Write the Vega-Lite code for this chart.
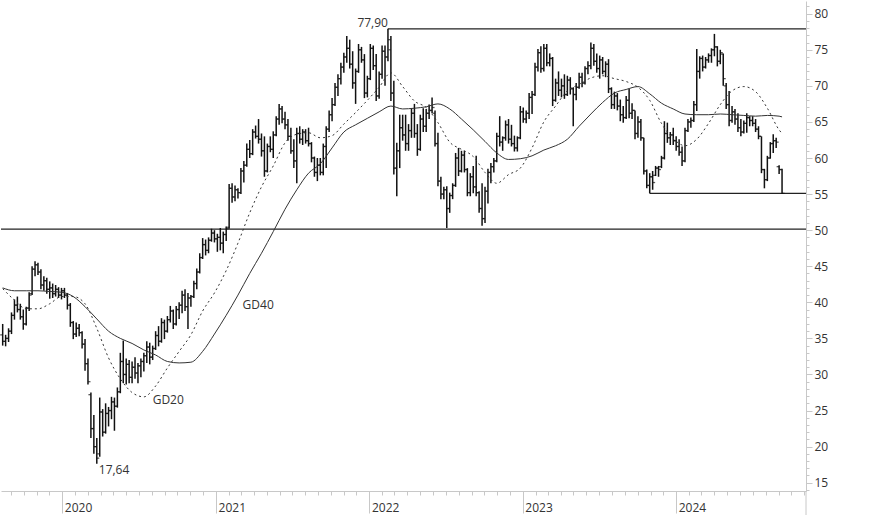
{
"$schema": "https://vega.github.io/schema/vega-lite/v6.json",
"width": 805, "height": 490, "padding": 0,
"autosize": {"type": "pad"},
"background": "white",
"config": {"view": {"stroke": null}, "font": "Open Sans", "text": {"font": "Open Sans"},
 "axis": {"labelOverlap": false, "labelFlush": false, "grid": false, "title": null, "domainColor": "#c8c8c8", "tickColor": "#c8c8c8", "labelColor": "#333333", "labelFontSize": 12, "labelFont": "Open Sans"}},
"resolve": {"axis": {"x": "independent", "y": "independent"}},
"datasets": {
"bars": [
{"d":"2019-08-12","o":35.5,"h":37.0,"l":34.0,"c":34.6},
{"d":"2019-08-19","o":34.6,"h":35.5,"l":33.9,"c":35.0},
{"d":"2019-08-26","o":35.0,"h":36.4,"l":34.5,"c":36.0},
{"d":"2019-09-02","o":36.0,"h":38.6,"l":35.6,"c":38.2},
{"d":"2019-09-09","o":38.2,"h":40.4,"l":37.6,"c":39.6},
{"d":"2019-09-16","o":39.6,"h":40.8,"l":38.6,"c":39.0},
{"d":"2019-09-23","o":39.0,"h":39.8,"l":37.6,"c":38.0},
{"d":"2019-09-30","o":38.0,"h":39.0,"l":36.2,"c":37.0},
{"d":"2019-10-07","o":37.0,"h":39.4,"l":36.8,"c":39.2},
{"d":"2019-10-14","o":39.2,"h":41.4,"l":38.8,"c":41.0},
{"d":"2019-10-21","o":41.2,"h":45.0,"l":41.0,"c":44.6},
{"d":"2019-10-28","o":44.6,"h":45.7,"l":43.6,"c":45.2},
{"d":"2019-11-04","o":45.2,"h":45.5,"l":43.8,"c":44.2},
{"d":"2019-11-11","o":44.2,"h":44.6,"l":41.8,"c":42.4},
{"d":"2019-11-18","o":42.4,"h":43.6,"l":41.6,"c":43.0},
{"d":"2019-11-25","o":43.0,"h":43.4,"l":41.2,"c":41.8},
{"d":"2019-12-02","o":41.8,"h":42.9,"l":40.5,"c":42.0},
{"d":"2019-12-09","o":42.0,"h":42.6,"l":40.6,"c":41.2},
{"d":"2019-12-16","o":41.2,"h":42.4,"l":40.8,"c":41.8},
{"d":"2019-12-23","o":41.8,"h":42.1,"l":40.6,"c":41.0},
{"d":"2019-12-30","o":41.0,"h":42.0,"l":40.4,"c":41.6},
{"d":"2020-01-06","o":41.6,"h":42.0,"l":40.6,"c":41.0},
{"d":"2020-01-13","o":41.0,"h":41.3,"l":39.0,"c":39.6},
{"d":"2020-01-20","o":39.6,"h":39.9,"l":36.6,"c":37.2},
{"d":"2020-01-27","o":37.2,"h":37.4,"l":34.9,"c":35.6},
{"d":"2020-02-03","o":35.6,"h":37.2,"l":35.2,"c":36.4},
{"d":"2020-02-10","o":36.4,"h":37.0,"l":35.3,"c":35.8},
{"d":"2020-02-17","o":35.8,"h":36.0,"l":33.6,"c":34.2},
{"d":"2020-02-24","o":34.2,"h":34.9,"l":30.5,"c":31.5},
{"d":"2020-03-02","o":31.5,"h":32.2,"l":28.6,"c":29.0},
{"d":"2020-03-09","o":27.2,"h":27.5,"l":21.2,"c":22.5},
{"d":"2020-03-16","o":22.5,"h":24.4,"l":19.0,"c":20.0},
{"d":"2020-03-23","o":20.0,"h":21.2,"l":17.64,"c":18.4},
{"d":"2020-03-30","o":19.0,"h":26.8,"l":18.6,"c":24.8},
{"d":"2020-04-06","o":24.8,"h":25.2,"l":21.4,"c":22.0},
{"d":"2020-04-13","o":22.0,"h":26.0,"l":21.8,"c":24.6},
{"d":"2020-04-20","o":24.6,"h":25.5,"l":22.8,"c":25.0},
{"d":"2020-04-27","o":25.0,"h":26.9,"l":23.8,"c":26.2},
{"d":"2020-05-04","o":26.2,"h":26.8,"l":22.2,"c":25.6},
{"d":"2020-05-11","o":25.6,"h":28.2,"l":25.4,"c":27.6},
{"d":"2020-05-18","o":27.6,"h":33.0,"l":27.4,"c":31.8},
{"d":"2020-05-25","o":31.8,"h":34.7,"l":28.8,"c":30.0},
{"d":"2020-06-01","o":30.0,"h":32.2,"l":28.6,"c":31.4},
{"d":"2020-06-08","o":31.4,"h":32.0,"l":28.8,"c":29.6},
{"d":"2020-06-15","o":29.6,"h":31.8,"l":28.8,"c":31.0},
{"d":"2020-06-22","o":31.0,"h":32.4,"l":29.4,"c":30.2},
{"d":"2020-06-29","o":30.2,"h":31.6,"l":28.8,"c":31.2},
{"d":"2020-07-06","o":31.2,"h":32.2,"l":29.6,"c":31.8},
{"d":"2020-07-13","o":31.8,"h":33.0,"l":30.4,"c":32.6},
{"d":"2020-07-20","o":32.6,"h":34.6,"l":31.6,"c":33.8},
{"d":"2020-07-27","o":33.8,"h":34.4,"l":31.4,"c":32.4},
{"d":"2020-08-03","o":32.4,"h":34.0,"l":32.0,"c":33.6},
{"d":"2020-08-10","o":33.6,"h":36.0,"l":33.4,"c":35.4},
{"d":"2020-08-17","o":35.4,"h":36.7,"l":33.9,"c":34.6},
{"d":"2020-08-24","o":34.6,"h":37.8,"l":34.4,"c":37.2},
{"d":"2020-08-31","o":37.2,"h":37.6,"l":34.9,"c":36.0},
{"d":"2020-09-07","o":36.0,"h":38.1,"l":35.8,"c":37.6},
{"d":"2020-09-14","o":37.6,"h":39.5,"l":37.2,"c":38.8},
{"d":"2020-09-21","o":38.8,"h":39.0,"l":36.3,"c":37.0},
{"d":"2020-09-28","o":37.0,"h":39.5,"l":36.8,"c":39.0},
{"d":"2020-10-05","o":39.0,"h":40.0,"l":37.7,"c":39.6},
{"d":"2020-10-12","o":39.6,"h":41.6,"l":38.5,"c":41.0},
{"d":"2020-10-19","o":41.0,"h":41.8,"l":38.8,"c":39.4},
{"d":"2020-10-26","o":39.4,"h":41.3,"l":36.3,"c":40.6},
{"d":"2020-11-02","o":40.6,"h":41.0,"l":39.4,"c":40.8},
{"d":"2020-11-09","o":40.8,"h":43.0,"l":40.6,"c":42.6},
{"d":"2020-11-16","o":42.6,"h":44.7,"l":41.8,"c":44.2},
{"d":"2020-11-23","o":44.2,"h":46.8,"l":44.0,"c":46.2},
{"d":"2020-11-30","o":46.2,"h":48.9,"l":46.0,"c":48.0},
{"d":"2020-12-07","o":48.0,"h":48.7,"l":46.5,"c":47.2},
{"d":"2020-12-14","o":47.2,"h":49.0,"l":46.8,"c":48.6},
{"d":"2020-12-21","o":48.6,"h":50.2,"l":48.4,"c":49.6},
{"d":"2020-12-28","o":49.6,"h":50.0,"l":48.3,"c":48.8},
{"d":"2021-01-04","o":48.8,"h":49.5,"l":47.0,"c":49.0},
{"d":"2021-01-11","o":49.0,"h":50.3,"l":47.2,"c":48.2},
{"d":"2021-01-18","o":48.2,"h":49.8,"l":46.8,"c":49.4},
{"d":"2021-01-25","o":49.4,"h":50.5,"l":48.5,"c":50.2},
{"d":"2021-02-01","o":50.4,"h":56.4,"l":50.2,"c":55.8},
{"d":"2021-02-08","o":55.8,"h":56.5,"l":53.8,"c":54.6},
{"d":"2021-02-15","o":54.6,"h":56.2,"l":54.0,"c":55.6},
{"d":"2021-02-22","o":55.6,"h":55.8,"l":54.4,"c":55.2},
{"d":"2021-03-01","o":55.2,"h":58.6,"l":55.0,"c":58.2},
{"d":"2021-03-08","o":58.2,"h":59.6,"l":56.6,"c":59.0},
{"d":"2021-03-15","o":59.0,"h":62.0,"l":58.8,"c":61.2},
{"d":"2021-03-22","o":61.2,"h":62.5,"l":60.0,"c":60.6},
{"d":"2021-03-29","o":60.6,"h":64.0,"l":60.4,"c":63.6},
{"d":"2021-04-05","o":63.6,"h":64.5,"l":62.7,"c":63.0},
{"d":"2021-04-12","o":63.0,"h":65.4,"l":62.0,"c":62.6},
{"d":"2021-04-19","o":62.6,"h":63.4,"l":60.2,"c":61.0},
{"d":"2021-04-26","o":61.0,"h":63.0,"l":57.4,"c":58.2},
{"d":"2021-05-03","o":58.2,"h":62.0,"l":58.0,"c":61.6},
{"d":"2021-05-10","o":61.6,"h":63.0,"l":60.8,"c":61.2},
{"d":"2021-05-17","o":61.2,"h":63.7,"l":60.0,"c":63.2},
{"d":"2021-05-24","o":63.2,"h":65.8,"l":63.0,"c":65.4},
{"d":"2021-05-31","o":65.4,"h":67.5,"l":64.6,"c":66.8},
{"d":"2021-06-07","o":66.8,"h":67.2,"l":64.8,"c":65.4},
{"d":"2021-06-14","o":65.4,"h":66.4,"l":64.0,"c":64.6},
{"d":"2021-06-21","o":64.6,"h":65.4,"l":62.4,"c":63.0},
{"d":"2021-06-28","o":63.0,"h":64.2,"l":60.6,"c":61.0},
{"d":"2021-07-05","o":61.0,"h":62.6,"l":58.6,"c":59.6},
{"d":"2021-07-12","o":59.6,"h":64.2,"l":56.5,"c":63.4},
{"d":"2021-07-19","o":63.4,"h":64.4,"l":62.0,"c":62.6},
{"d":"2021-07-26","o":62.6,"h":64.0,"l":61.8,"c":63.6},
{"d":"2021-08-02","o":63.6,"h":64.0,"l":62.0,"c":62.4},
{"d":"2021-08-09","o":62.4,"h":64.2,"l":61.6,"c":62.0},
{"d":"2021-08-16","o":62.0,"h":62.2,"l":59.4,"c":60.0},
{"d":"2021-08-23","o":60.0,"h":60.2,"l":57.4,"c":58.0},
{"d":"2021-08-30","o":58.0,"h":60.0,"l":56.8,"c":59.0},
{"d":"2021-09-06","o":59.0,"h":60.0,"l":57.6,"c":58.0},
{"d":"2021-09-13","o":58.0,"h":62.0,"l":57.6,"c":61.6},
{"d":"2021-09-20","o":61.6,"h":64.4,"l":58.6,"c":64.0},
{"d":"2021-09-27","o":64.0,"h":66.6,"l":63.6,"c":66.0},
{"d":"2021-10-04","o":66.0,"h":68.3,"l":65.1,"c":67.4},
{"d":"2021-10-11","o":67.4,"h":70.4,"l":67.2,"c":69.8},
{"d":"2021-10-18","o":69.8,"h":71.6,"l":68.6,"c":71.0},
{"d":"2021-10-25","o":71.0,"h":73.2,"l":70.2,"c":72.6},
{"d":"2021-11-01","o":72.6,"h":74.6,"l":71.8,"c":74.0},
{"d":"2021-11-08","o":74.0,"h":76.9,"l":73.2,"c":75.2},
{"d":"2021-11-15","o":75.2,"h":76.4,"l":72.4,"c":73.0},
{"d":"2021-11-22","o":73.0,"h":74.8,"l":69.6,"c":70.4},
{"d":"2021-11-29","o":70.4,"h":72.4,"l":67.5,"c":72.0},
{"d":"2021-12-06","o":72.0,"h":75.8,"l":71.8,"c":75.0},
{"d":"2021-12-13","o":75.0,"h":75.4,"l":73.2,"c":73.6},
{"d":"2021-12-20","o":73.6,"h":74.4,"l":68.3,"c":69.0},
{"d":"2021-12-27","o":69.0,"h":71.4,"l":68.4,"c":71.0},
{"d":"2022-01-03","o":71.0,"h":75.8,"l":70.8,"c":75.2},
{"d":"2022-01-10","o":75.2,"h":75.6,"l":72.2,"c":72.8},
{"d":"2022-01-17","o":72.8,"h":74.4,"l":67.9,"c":68.6},
{"d":"2022-01-24","o":68.6,"h":72.0,"l":68.2,"c":71.6},
{"d":"2022-01-31","o":71.6,"h":75.6,"l":71.0,"c":74.8},
{"d":"2022-02-07","o":74.8,"h":75.6,"l":70.0,"c":74.0},
{"d":"2022-02-14","o":74.0,"h":77.9,"l":73.4,"c":76.4},
{"d":"2022-02-21","o":75.0,"h":76.9,"l":67.9,"c":69.0},
{"d":"2022-02-28","o":69.0,"h":70.7,"l":57.7,"c":58.6},
{"d":"2022-03-07","o":58.6,"h":62.1,"l":54.7,"c":61.0},
{"d":"2022-03-14","o":61.0,"h":66.0,"l":58.6,"c":64.2},
{"d":"2022-03-21","o":64.2,"h":66.0,"l":62.4,"c":63.2},
{"d":"2022-03-28","o":63.2,"h":66.0,"l":61.0,"c":62.0},
{"d":"2022-04-04","o":62.0,"h":64.7,"l":61.0,"c":63.8},
{"d":"2022-04-11","o":63.8,"h":66.9,"l":62.8,"c":66.2},
{"d":"2022-04-18","o":66.2,"h":67.5,"l":62.8,"c":63.4},
{"d":"2022-04-25","o":63.4,"h":64.7,"l":60.3,"c":61.2},
{"d":"2022-05-02","o":61.2,"h":66.0,"l":61.0,"c":65.4},
{"d":"2022-05-09","o":65.4,"h":66.9,"l":63.6,"c":64.4},
{"d":"2022-05-16","o":64.4,"h":66.8,"l":63.6,"c":66.2},
{"d":"2022-05-23","o":66.2,"h":67.4,"l":65.4,"c":66.6},
{"d":"2022-05-30","o":66.6,"h":68.4,"l":66.2,"c":67.0},
{"d":"2022-06-06","o":66.2,"h":66.6,"l":61.6,"c":62.0},
{"d":"2022-06-13","o":62.0,"h":63.5,"l":56.1,"c":56.8},
{"d":"2022-06-20","o":56.8,"h":57.4,"l":54.3,"c":55.0},
{"d":"2022-06-27","o":55.0,"h":56.0,"l":54.3,"c":55.6},
{"d":"2022-07-04","o":55.6,"h":56.1,"l":50.3,"c":53.0},
{"d":"2022-07-11","o":53.0,"h":55.2,"l":52.4,"c":54.8},
{"d":"2022-07-18","o":54.8,"h":56.5,"l":54.3,"c":56.2},
{"d":"2022-07-25","o":56.2,"h":60.7,"l":56.0,"c":60.0},
{"d":"2022-08-01","o":60.0,"h":61.4,"l":57.5,"c":58.2},
{"d":"2022-08-08","o":58.2,"h":61.0,"l":58.0,"c":60.4},
{"d":"2022-08-15","o":60.4,"h":61.0,"l":58.0,"c":58.4},
{"d":"2022-08-22","o":58.4,"h":58.6,"l":54.7,"c":55.2},
{"d":"2022-08-29","o":55.2,"h":57.9,"l":54.7,"c":57.4},
{"d":"2022-09-05","o":57.4,"h":58.9,"l":55.1,"c":56.0},
{"d":"2022-09-12","o":56.0,"h":60.3,"l":54.7,"c":55.2},
{"d":"2022-09-19","o":55.2,"h":55.4,"l":52.4,"c":53.0},
{"d":"2022-09-26","o":53.0,"h":56.5,"l":50.6,"c":51.6},
{"d":"2022-10-03","o":51.6,"h":56.0,"l":51.0,"c":55.4},
{"d":"2022-10-10","o":55.4,"h":58.5,"l":53.7,"c":58.0},
{"d":"2022-10-17","o":58.0,"h":59.3,"l":56.5,"c":58.8},
{"d":"2022-10-24","o":58.8,"h":60.0,"l":58.0,"c":59.6},
{"d":"2022-10-31","o":59.6,"h":63.5,"l":59.4,"c":63.0},
{"d":"2022-11-07","o":63.0,"h":65.8,"l":61.6,"c":62.2},
{"d":"2022-11-14","o":62.2,"h":63.0,"l":61.0,"c":62.8},
{"d":"2022-11-21","o":62.8,"h":65.2,"l":62.4,"c":64.6},
{"d":"2022-11-28","o":64.6,"h":65.4,"l":62.0,"c":62.6},
{"d":"2022-12-05","o":62.6,"h":64.6,"l":61.6,"c":62.0},
{"d":"2022-12-12","o":62.0,"h":63.1,"l":60.9,"c":61.4},
{"d":"2022-12-19","o":61.4,"h":63.0,"l":60.9,"c":62.8},
{"d":"2022-12-26","o":62.8,"h":67.2,"l":62.6,"c":66.4},
{"d":"2023-01-02","o":66.4,"h":67.0,"l":64.9,"c":65.4},
{"d":"2023-01-09","o":65.4,"h":66.6,"l":64.8,"c":66.2},
{"d":"2023-01-16","o":66.2,"h":69.0,"l":65.4,"c":68.4},
{"d":"2023-01-23","o":68.4,"h":69.3,"l":66.1,"c":68.8},
{"d":"2023-01-30","o":68.8,"h":73.2,"l":68.6,"c":72.6},
{"d":"2023-02-06","o":72.6,"h":75.1,"l":72.0,"c":74.6},
{"d":"2023-02-13","o":74.6,"h":75.5,"l":71.8,"c":72.4},
{"d":"2023-02-20","o":72.4,"h":75.8,"l":72.0,"c":75.2},
{"d":"2023-02-27","o":75.2,"h":75.8,"l":72.7,"c":73.2},
{"d":"2023-03-06","o":73.2,"h":74.5,"l":72.7,"c":73.8},
{"d":"2023-03-13","o":73.8,"h":74.0,"l":67.2,"c":68.0},
{"d":"2023-03-20","o":68.0,"h":71.0,"l":67.8,"c":70.4},
{"d":"2023-03-27","o":70.4,"h":72.0,"l":68.6,"c":69.4},
{"d":"2023-04-03","o":69.4,"h":71.0,"l":68.4,"c":70.0},
{"d":"2023-04-10","o":70.0,"h":71.6,"l":68.2,"c":68.8},
{"d":"2023-04-17","o":68.8,"h":71.4,"l":68.6,"c":70.8},
{"d":"2023-04-24","o":70.8,"h":71.2,"l":68.8,"c":69.6},
{"d":"2023-05-01","o":69.6,"h":69.8,"l":64.4,"c":68.8},
{"d":"2023-05-08","o":68.8,"h":70.4,"l":68.0,"c":69.8},
{"d":"2023-05-15","o":69.8,"h":71.8,"l":69.6,"c":71.2},
{"d":"2023-05-22","o":71.2,"h":71.8,"l":69.8,"c":70.4},
{"d":"2023-05-29","o":70.4,"h":72.7,"l":70.2,"c":72.4},
{"d":"2023-06-05","o":72.4,"h":73.4,"l":71.6,"c":72.8},
{"d":"2023-06-12","o":72.8,"h":76.0,"l":72.3,"c":75.2},
{"d":"2023-06-19","o":75.2,"h":75.8,"l":72.8,"c":73.4},
{"d":"2023-06-26","o":73.4,"h":74.5,"l":71.8,"c":72.4},
{"d":"2023-07-03","o":72.4,"h":74.2,"l":71.0,"c":73.6},
{"d":"2023-07-10","o":73.6,"h":74.0,"l":71.6,"c":72.0},
{"d":"2023-07-17","o":72.0,"h":73.4,"l":71.2,"c":73.0},
{"d":"2023-07-24","o":73.0,"h":73.7,"l":69.0,"c":69.6},
{"d":"2023-07-31","o":69.6,"h":69.8,"l":66.8,"c":67.4},
{"d":"2023-08-07","o":67.4,"h":69.2,"l":66.8,"c":68.6},
{"d":"2023-08-14","o":68.6,"h":69.0,"l":66.6,"c":67.2},
{"d":"2023-08-21","o":67.2,"h":68.1,"l":65.1,"c":66.0},
{"d":"2023-08-28","o":66.0,"h":67.2,"l":64.9,"c":65.6},
{"d":"2023-09-04","o":65.6,"h":68.6,"l":65.4,"c":68.0},
{"d":"2023-09-11","o":68.0,"h":69.6,"l":65.5,"c":66.2},
{"d":"2023-09-18","o":66.2,"h":67.6,"l":65.4,"c":66.6},
{"d":"2023-09-25","o":66.6,"h":66.6,"l":62.6,"c":63.4},
{"d":"2023-10-02","o":63.4,"h":65.8,"l":62.8,"c":65.0},
{"d":"2023-10-09","o":65.0,"h":65.4,"l":62.4,"c":62.8},
{"d":"2023-10-16","o":62.8,"h":62.8,"l":57.7,"c":58.2},
{"d":"2023-10-23","o":58.2,"h":58.4,"l":55.8,"c":56.2},
{"d":"2023-10-30","o":56.2,"h":57.9,"l":55.1,"c":57.4},
{"d":"2023-11-06","o":57.4,"h":58.2,"l":55.6,"c":56.6},
{"d":"2023-11-13","o":57.6,"h":58.9,"l":57.5,"c":58.6},
{"d":"2023-11-20","o":58.6,"h":58.9,"l":57.4,"c":58.4},
{"d":"2023-11-27","o":58.8,"h":60.3,"l":58.6,"c":60.0},
{"d":"2023-12-04","o":60.0,"h":65.1,"l":59.8,"c":63.4},
{"d":"2023-12-11","o":63.4,"h":64.9,"l":62.1,"c":62.8},
{"d":"2023-12-18","o":62.8,"h":63.6,"l":61.8,"c":63.2},
{"d":"2023-12-25","o":63.2,"h":64.2,"l":61.8,"c":62.4},
{"d":"2024-01-01","o":62.4,"h":63.0,"l":61.0,"c":61.6},
{"d":"2024-01-08","o":61.6,"h":62.6,"l":60.3,"c":60.8},
{"d":"2024-01-15","o":60.8,"h":61.6,"l":58.9,"c":59.6},
{"d":"2024-01-22","o":59.6,"h":64.2,"l":59.4,"c":63.8},
{"d":"2024-01-29","o":63.8,"h":65.4,"l":63.6,"c":65.0},
{"d":"2024-02-05","o":65.0,"h":65.6,"l":64.2,"c":65.2},
{"d":"2024-02-12","o":65.2,"h":67.9,"l":65.0,"c":67.4},
{"d":"2024-02-19","o":67.4,"h":75.1,"l":66.5,"c":72.0},
{"d":"2024-02-26","o":72.0,"h":74.1,"l":71.0,"c":73.8},
{"d":"2024-03-04","o":73.8,"h":74.2,"l":72.0,"c":72.6},
{"d":"2024-03-11","o":72.6,"h":74.0,"l":72.4,"c":73.6},
{"d":"2024-03-18","o":73.6,"h":74.5,"l":73.2,"c":74.2},
{"d":"2024-03-25","o":74.2,"h":75.2,"l":73.2,"c":75.0},
{"d":"2024-04-01","o":75.0,"h":77.2,"l":74.1,"c":75.4},
{"d":"2024-04-08","o":75.4,"h":75.5,"l":72.7,"c":73.4},
{"d":"2024-04-15","o":73.4,"h":75.0,"l":73.0,"c":74.6},
{"d":"2024-04-22","o":74.4,"h":74.5,"l":70.0,"c":71.0},
{"d":"2024-04-29","o":70.0,"h":70.4,"l":66.8,"c":67.4},
{"d":"2024-05-06","o":67.4,"h":69.3,"l":64.4,"c":65.2},
{"d":"2024-05-13","o":65.2,"h":67.2,"l":64.9,"c":66.4},
{"d":"2024-05-20","o":66.4,"h":66.8,"l":64.6,"c":65.4},
{"d":"2024-05-27","o":65.4,"h":66.2,"l":63.6,"c":64.2},
{"d":"2024-06-03","o":64.2,"h":65.4,"l":63.0,"c":63.6},
{"d":"2024-06-10","o":63.6,"h":65.2,"l":63.4,"c":64.8},
{"d":"2024-06-17","o":64.8,"h":66.2,"l":63.5,"c":65.6},
{"d":"2024-06-24","o":65.6,"h":65.8,"l":64.4,"c":65.2},
{"d":"2024-07-01","o":65.2,"h":65.8,"l":64.4,"c":64.8},
{"d":"2024-07-08","o":64.8,"h":65.4,"l":63.6,"c":64.0},
{"d":"2024-07-15","o":64.0,"h":64.4,"l":62.6,"c":63.0},
{"d":"2024-07-22","o":63.0,"h":63.0,"l":57.9,"c":58.4},
{"d":"2024-07-29","o":58.4,"h":58.5,"l":55.8,"c":57.0},
{"d":"2024-08-05","o":57.0,"h":60.3,"l":56.8,"c":60.0},
{"d":"2024-08-12","o":60.0,"h":62.2,"l":59.9,"c":62.0},
{"d":"2024-08-19","o":62.0,"h":63.3,"l":60.7,"c":62.4},
{"d":"2024-08-26","o":62.4,"h":62.8,"l":61.4,"c":62.2},
{"d":"2024-09-02","o":58.8,"h":59.0,"l":57.8,"c":58.4},
{"d":"2024-09-09","o":58.4,"h":58.5,"l":55.0,"c":55.1}
],
"ma": [
{"d":"2019-08-12","g20":41.9,"g40":42.0},
{"d":"2019-09-09","g20":40.3,"g40":41.6},
{"d":"2019-10-07","g20":39.1,"g40":41.6},
{"d":"2019-11-04","g20":39.1,"g40":41.6},
{"d":"2019-12-02","g20":39.8,"g40":41.5},
{"d":"2019-12-30","g20":40.8,"g40":41.4},
{"d":"2020-01-27","g20":40.8,"g40":40.8},
{"d":"2020-02-24","g20":39.8,"g40":39.4},
{"d":"2020-03-23","g20":36.4,"g40":37.7},
{"d":"2020-04-20","g20":32.3,"g40":36.0},
{"d":"2020-05-18","g20":29.4,"g40":35.0},
{"d":"2020-06-15","g20":27.5,"g40":34.3},
{"d":"2020-07-13","g20":26.9,"g40":33.4},
{"d":"2020-08-10","g20":28.4,"g40":32.7},
{"d":"2020-09-07","g20":30.9,"g40":31.8},
{"d":"2020-10-05","g20":33.2,"g40":31.6},
{"d":"2020-11-02","g20":35.5,"g40":31.7},
{"d":"2020-11-30","g20":38.8,"g40":33.2},
{"d":"2020-12-28","g20":41.3,"g40":35.6},
{"d":"2021-01-25","g20":44.4,"g40":38.2},
{"d":"2021-02-22","g20":48.2,"g40":41.0},
{"d":"2021-03-22","g20":52.4,"g40":44.0},
{"d":"2021-04-19","g20":56.0,"g40":46.8},
{"d":"2021-05-17","g20":58.9,"g40":49.8},
{"d":"2021-06-14","g20":62.1,"g40":52.9},
{"d":"2021-07-12","g20":63.3,"g40":55.6},
{"d":"2021-08-09","g20":63.5,"g40":57.9},
{"d":"2021-09-06","g20":62.8,"g40":59.2},
{"d":"2021-10-04","g20":63.1,"g40":61.4},
{"d":"2021-11-01","g20":64.7,"g40":63.6},
{"d":"2021-11-29","g20":66.3,"g40":64.6},
{"d":"2021-12-27","g20":68.0,"g40":65.5},
{"d":"2022-01-24","g20":69.8,"g40":66.4},
{"d":"2022-02-21","g20":71.8,"g40":67.2},
{"d":"2022-03-21","g20":69.9,"g40":66.8},
{"d":"2022-04-18","g20":67.9,"g40":66.9},
{"d":"2022-05-16","g20":67.0,"g40":67.1},
{"d":"2022-06-13","g20":64.9,"g40":67.5},
{"d":"2022-07-11","g20":62.2,"g40":66.8},
{"d":"2022-08-08","g20":61.2,"g40":65.4},
{"d":"2022-09-05","g20":60.2,"g40":63.9},
{"d":"2022-10-03","g20":58.0,"g40":62.3},
{"d":"2022-10-31","g20":56.5,"g40":60.7},
{"d":"2022-11-28","g20":57.7,"g40":59.8},
{"d":"2022-12-26","g20":58.6,"g40":59.9},
{"d":"2023-01-23","g20":61.4,"g40":60.3},
{"d":"2023-02-20","g20":65.0,"g40":61.1},
{"d":"2023-03-20","g20":67.2,"g40":61.7},
{"d":"2023-04-17","g20":69.3,"g40":62.6},
{"d":"2023-05-15","g20":70.2,"g40":64.4},
{"d":"2023-06-12","g20":71.1,"g40":66.1},
{"d":"2023-07-10","g20":71.4,"g40":67.7},
{"d":"2023-08-07","g20":71.0,"g40":69.0},
{"d":"2023-09-04","g20":70.6,"g40":69.5},
{"d":"2023-10-02","g20":69.8,"g40":69.9},
{"d":"2023-10-30","g20":68.0,"g40":68.9},
{"d":"2023-11-27","g20":64.8,"g40":67.6},
{"d":"2023-12-25","g20":62.7,"g40":66.8},
{"d":"2024-01-22","g20":61.7,"g40":66.1},
{"d":"2024-02-19","g20":62.6,"g40":66.0},
{"d":"2024-03-18","g20":64.8,"g40":66.0},
{"d":"2024-04-15","g20":67.4,"g40":66.1},
{"d":"2024-05-13","g20":69.3,"g40":66.0},
{"d":"2024-06-10","g20":69.9,"g40":65.9},
{"d":"2024-07-08","g20":69.2,"g40":65.8},
{"d":"2024-08-05","g20":66.9,"g40":65.9},
{"d":"2024-09-02","g20":63.9,"g40":65.8},
{"d":"2024-09-09","g20":63.4,"g40":65.7}
],
"lines": [
{"x1":"2022-02-14","x2":"2024-11-05","v":77.9},
{"x1":"2023-10-30","x2":"2024-11-05","v":55.1},
{"x1":"2019-08-08","x2":"2024-11-05","v":50.15}
],
"axisext": [{"d":"2024-11-05","y1":13.85,"y2":10.4}],
"hi": [{"d":"2022-02-14","v":77.9,"t":"77,90"}],
"lo": [{"d":"2020-03-23","v":17.64,"t":"17,64"}],
"gd": [
{"d":"2020-08-03","v":26.46,"t":"GD20"},
{"d":"2021-03-05","v":39.6,"t":"GD40"}
]
},
"layer": [
{
"data": {"name": "lines"},
"mark": {"type": "rule", "color": "#222222", "strokeWidth": 1.2},
"encoding": {
"x": {"field": "x1", "type": "temporal",
 "scale": {"type": "time", "domain": [{"year": 2019, "month": 8, "date": 8}, {"year": 2024, "month": 11, "date": 5}], "nice": false},
 "axis": {"orient": "bottom", "title": null, "grid": false,
  "tickCount": {"interval": "month", "step": 1},
  "format": "%Y",
  "labelExpr": "month(datum.value) === 0 ? datum.label : ''",
  "tickSize": {"condition": {"test": "month(datum.value) === 0", "value": 22}, "value": 4},
  "labelAlign": "left", "labelBaseline": "middle", "labelPadding": -6, "labelOffset": 2,
  "labelFlush": false, "labelOverlap": false, "labelBound": false}},
"x2": {"field": "x2"},
"y": {"field": "v", "type": "quantitative",
 "scale": {"domain": [13.85, 81.76], "nice": false, "zero": false},
 "axis": {"orient": "right", "title": null, "grid": false,
  "values": [14,15,16,17,18,19,20,21,22,23,24,25,26,27,28,29,30,31,32,33,34,35,36,37,38,39,40,41,42,43,44,45,46,47,48,49,50,51,52,53,54,55,56,57,58,59,60,61,62,63,64,65,66,67,68,69,70,71,72,73,74,75,76,77,78,79,80,81],
  "labelExpr": "datum.value % 5 === 0 ? datum.label : ''",
  "tickSize": {"condition": {"test": "datum.value % 5 === 0", "value": 6}, "value": 3},
  "labelPadding": 2, "labelFlush": false, "labelOverlap": false}}
}
},
{
"data": {"name": "axisext"},
"mark": {"type": "rule", "color": "#c8c8c8", "strokeWidth": 1},
"encoding": {
"x": {"field": "d", "type": "temporal", "axis": null},
"y": {"field": "y1", "type": "quantitative", "axis": null},
"y2": {"field": "y2"}
}
},
{
"data": {"name": "bars"},
"mark": {"type": "rule", "color": "#111111", "strokeWidth": 1.5},
"encoding": {
"x": {"field": "d", "type": "temporal", "axis": null},
"y": {"field": "l", "type": "quantitative", "axis": null},
"y2": {"field": "h"}
}
},
{
"data": {"name": "bars"},
"mark": {"type": "tick", "orient": "horizontal", "color": "#111111", "size": 2.4, "thickness": 1.3, "xOffset": -1.3},
"encoding": {
"x": {"field": "d", "type": "temporal", "axis": null},
"y": {"field": "o", "type": "quantitative", "axis": null}
}
},
{
"data": {"name": "bars"},
"mark": {"type": "tick", "orient": "horizontal", "color": "#111111", "size": 2.4, "thickness": 1.3, "xOffset": 1.3},
"encoding": {
"x": {"field": "d", "type": "temporal", "axis": null},
"y": {"field": "c", "type": "quantitative", "axis": null}
}
},
{
"data": {"name": "ma"},
"mark": {"type": "line", "color": "#333333", "strokeWidth": 1, "interpolate": "monotone"},
"encoding": {
"x": {"field": "d", "type": "temporal", "axis": null},
"y": {"field": "g40", "type": "quantitative", "axis": null}
}
},
{
"data": {"name": "ma"},
"mark": {"type": "line", "color": "#333333", "strokeWidth": 1, "strokeDash": [2, 3], "interpolate": "monotone"},
"encoding": {
"x": {"field": "d", "type": "temporal", "axis": null},
"y": {"field": "g20", "type": "quantitative", "axis": null}
}
},
{
"data": {"name": "hi"},
"mark": {"type": "text", "align": "right", "baseline": "alphabetic", "dy": -2, "dx": 0, "fontSize": 12, "color": "#333333"},
"encoding": {
"x": {"field": "d", "type": "temporal", "axis": null},
"y": {"field": "v", "type": "quantitative", "axis": null},
"text": {"field": "t"}
}
},
{
"data": {"name": "lo"},
"mark": {"type": "text", "align": "left", "baseline": "top", "dy": 1, "dx": 2, "fontSize": 12, "color": "#333333"},
"encoding": {
"x": {"field": "d", "type": "temporal", "axis": null},
"y": {"field": "v", "type": "quantitative", "axis": null},
"text": {"field": "t"}
}
},
{
"data": {"name": "gd"},
"mark": {"type": "text", "align": "left", "baseline": "middle", "fontSize": 12, "color": "#333333"},
"encoding": {
"x": {"field": "d", "type": "temporal", "axis": null},
"y": {"field": "v", "type": "quantitative", "axis": null},
"text": {"field": "t"}
}
}
]
}
